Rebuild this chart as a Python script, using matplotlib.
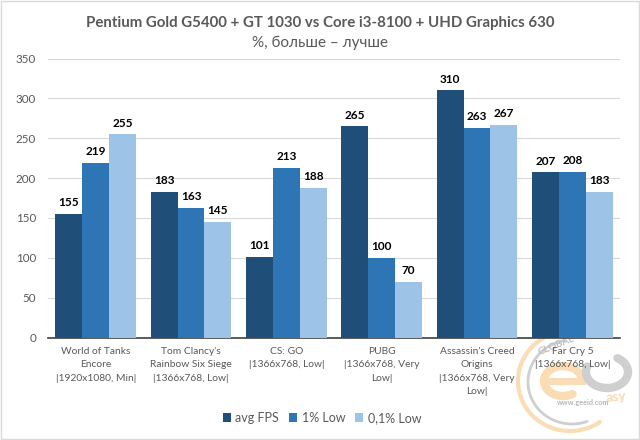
import numpy as np
import matplotlib
matplotlib.use("Agg")
import matplotlib.pyplot as plt
from matplotlib.patches import Rectangle

games = ["World of Tanks\nEncore\n|1920x1080, Min|",
         "Tom Clancy's\nRainbow Six Siege\n|1366x768, Low|",
         "CS: GO\n|1366x768, Low|",
         "PUBG\n|1366x768, Very\nLow|",
         "Assassin's Creed\nOrigins\n|1366x768, Very\nLow|",
         "Far Cry 5\n|1366x768, Low|"]
avg_fps = [155, 183, 101, 265, 310, 207]
low_1 = [219, 163, 213, 100, 263, 208]
low_01 = [255, 145, 188, 70, 267, 183]
series_names = ["avg FPS", "1% Low", "0,1% Low"]
colors = ["#1F4E79", "#2E75B6", "#9DC3E6"]
y_ticks = [0, 50, 100, 150, 200, 250, 300, 350]

plt.rcParams['font.family'] = ['Lato', 'DejaVu Sans']

fig = plt.figure(figsize=(6.4, 4.4), dpi=100)
ax = fig.add_axes([48 / 640, 1 - 337.5 / 440, 572 / 640, 279 / 440], facecolor='none')

x = np.arange(len(games))
w = 0.283
for i, vals in enumerate([avg_fps, low_1, low_01]):
    bars = ax.bar(x + (i - 1) * w, vals, w, color=colors[i], label=series_names[i], zorder=3)
    ax.bar_label(bars, padding=4, fontsize=8.5, fontweight='bold', color='black', zorder=5)

ax.set_xlim(-0.5, 5.5)
ax.set_ylim(0, 350)
ax.set_yticks(y_ticks)
ax.set_xticks(x)
ax.set_xticklabels(games, fontsize=7.4, color='#595959', linespacing=1.6)
ax.tick_params(axis='y', length=0, labelsize=8.4, labelcolor='#595959', pad=8.5)
ax.tick_params(axis='x', length=0, pad=7)
ax.grid(axis='y', color='#D9D9D9', lw=0.8, zorder=0)
for side in ['top', 'right', 'left']:
    ax.spines[side].set_visible(False)
ax.spines['bottom'].set_color('#404040')
ax.spines['bottom'].set_linewidth(1.2)

fig.text(320 / 640, 1 - 23 / 440, "Pentium Gold G5400 + GT 1030 vs Core i3-8100 + UHD Graphics 630",
         ha='center', va='center', fontsize=10.85, fontweight='bold', color='#595959')
fig.text(320 / 640, 1 - 43 / 440, "%, больше – лучше", ha='center', va='center',
         fontsize=11, color='#595959')

fig.legend(loc='center', bbox_to_anchor=(322 / 640, 1 - 418 / 440), ncol=3, frameon=False,
           fontsize=9, labelcolor='#595959', handlelength=0.65, handleheight=0.65,
           handletextpad=0.35, columnspacing=0.8)


def arc(cx, cy, rx, ry, start, end, color, lw):
    t = np.radians(np.linspace(start, end, 80))
    over.plot(cx + rx * np.cos(t), cy - ry * np.sin(t), color=color, lw=lw, solid_capstyle='round')


# underlay in pixel coords: frame and watermark, chart text stays readable on top
over = fig.add_axes([0, 0, 1, 1], facecolor='none', zorder=-1)
over.set_xlim(0, 640)
over.set_ylim(440, 0)
over.axis('off')
over.add_patch(Rectangle((1, 1), 638, 438, fill=False, ec='#D9D9D9', lw=1))
orange = '#FADDB4'
grey = '#CFCFCF'
arc(570, 381, 52, 50, 85, 305, orange, 3)
arc(572, 382, 44, 42, 100, 290, grey, 2)
# "e" of the logo
arc(563, 381, 19, 15, 0, 300, orange, 6)
over.plot([546, 582], [381, 381], color=orange, lw=5)
# grey "J" of the logo
arc(607, 372, 21, 16, -200, 60, grey, 6)
over.text(616, 397, "asy", fontsize=10, fontweight='bold', color='#F8D9AE', ha='center', va='center', rotation=6)
over.text(583, 403, "www.geeid.com", fontsize=5.2, fontweight='bold', color='#B8B8B8', ha='center', va='center')
over.text(556, 346, "GLOBAL", fontsize=7, fontweight='bold', color='#C0C0C0', ha='center', va='center', rotation=22)

fig.savefig("out.png", dpi=100)
